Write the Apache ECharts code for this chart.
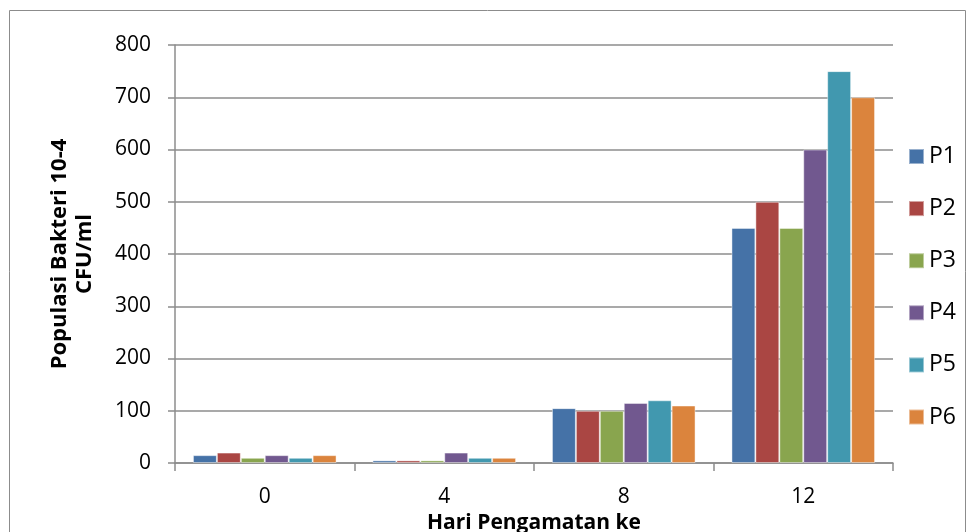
<!DOCTYPE html>
<html>
<head>
<meta charset="utf-8">
<script src="https://cdn.jsdelivr.net/npm/echarts@6/dist/echarts.min.js"></script>
<style>
  html, body { margin: 0; padding: 0; background: #fff; }
  #chart { width: 968px; height: 532px; }
</style>
</head>
<body>
<div id="chart"></div>
<script>
// Observation days
const days = ['0', '4', '8', '12'];
// Bacterial population per treatment (10^-4 CFU/ml)
const p1 = [15, 5, 105, 450];
const p2 = [20, 5, 100, 500];
const p3 = [10, 5, 100, 450];
const p4 = [15, 20, 115, 600];
const p5 = [10, 10, 120, 750];
const p6 = [15, 10, 110, 700];
const seriesNames = ['P1', 'P2', 'P3', 'P4', 'P5', 'P6'];
const seriesData = [p1, p2, p3, p4, p5, p6];
const palette = ['#4572A7', '#AA4643', '#89A54E', '#71588F', '#4198AF', '#DB843D'];

const FONT = '"Open Sans", Lato, sans-serif';
const chart = echarts.init(document.getElementById('chart'));

chart.setOption({
  animation: false,
  color: palette,
  textStyle: { fontFamily: FONT },
  graphic: [{
    type: 'rect',
    shape: { x: 9.5, y: 10.5, width: 956, height: 540 },
    style: { fill: 'none', stroke: '#8c8c8c', lineWidth: 1 },
    silent: true
  }],
  grid: { left: 175, right: 75, top: 45, bottom: 69, outerBoundsMode: 'none', containLabel: false },
  legend: {
    orient: 'vertical',
    left: 903,
    top: 140,
    itemWidth: 15,
    itemHeight: 15,
    itemGap: 29.1,
    icon: 'rect',
    textStyle: { fontSize: 23, lineHeight: 20, color: '#000', fontFamily: FONT },
    data: seriesNames
  },
  xAxis: {
    type: 'category',
    data: days,
    name: 'Hari Pengamatan ke',
    nameLocation: 'middle',
    nameGap: 44,
    nameTextStyle: { fontSize: 21, fontWeight: 'bold', color: '#000', fontFamily: FONT },
    axisLine: { lineStyle: { color: '#8c8c8c', width: 1.5 } },
    axisTick: { show: true, length: 8, lineStyle: { color: '#8c8c8c', width: 1.5 } },
    axisLabel: { fontSize: 21, color: '#000', margin: 24 }
  },
  yAxis: {
    type: 'value',
    min: 0,
    max: 800,
    interval: 100,
    name: 'Populasi Bakteri 10-4\nCFU/ml',
    nameLocation: 'middle',
    nameGap: 78,
    nameTextStyle: { fontSize: 22, fontWeight: 'bold', color: '#000', lineHeight: 25, fontFamily: FONT },
    axisLine: { show: true, lineStyle: { color: '#8c8c8c', width: 1.5 } },
    axisTick: { show: true, length: 7, lineStyle: { color: '#8c8c8c', width: 1.5 } },
    axisLabel: { fontSize: 21, color: '#000', margin: 24 },
    splitLine: { lineStyle: { color: '#8c8c8c', width: 1.5 } }
  },
  series: seriesNames.map((n, i) => ({
    name: n,
    type: 'bar',
    data: seriesData[i],
    barGap: '0%',
    barCategoryGap: '20%',
    itemStyle: { borderColor: 'rgba(255,255,255,0.45)', borderWidth: 1 }
  }))
});
</script>
</body>
</html>
